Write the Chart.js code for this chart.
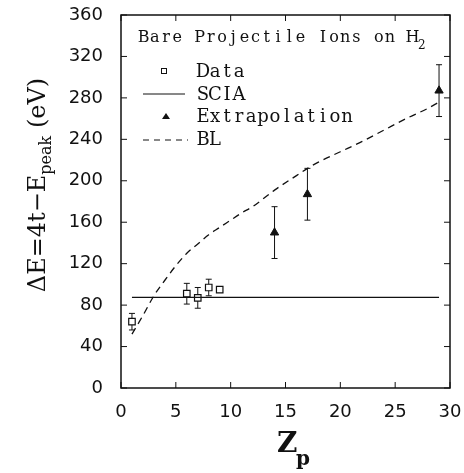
<!DOCTYPE html>
<html>
<head>
<meta charset="utf-8">
<script src="https://cdn.jsdelivr.net/npm/chart.js@4.4.0/dist/chart.umd.min.js"></script>
<style>
  html, body { margin: 0; padding: 0; background: #fff; }
  #wrap { width: 464px; height: 473px; }
</style>
</head>
<body>
<div id="wrap"><canvas id="zChart" width="464" height="473"></canvas></div>
<script>
// measured points (Z_p, Delta E in eV)
const dataZ = [1, 6, 7, 8, 9];
const dataE = [64, 91, 87, 97, 95];
const dataErr = [8, 10, 10, 8, 0];

const sciaZ = [1, 29];
const sciaE = [87.5, 87.5];

const extZ = [14, 17, 29];
const extE = [150, 187, 287];
const extErr = [25, 25, 25];

const blZ = [1, 2, 3, 4, 5, 6, 7, 8, 9, 10, 11, 12, 14, 16, 17, 18, 20, 22, 24, 26, 28, 29];
const blE = [52, 70, 89, 104, 118, 130, 139, 148, 155, 162, 169, 175, 191, 205, 212, 218, 228, 238, 249, 260, 270, 276];

const xTicks = [0, 5, 10, 15, 20, 25, 30];
const yTicks = [0, 40, 80, 120, 160, 200, 240, 280, 320, 360];

const legendTitle = ["Bare Projectile Ions on H", "2"];
const legendLabels = ["Data", "SCIA", "Extrapolation", "BL"];

const pts = (xs, ys) => xs.map((x, i) => ({ x: x, y: ys[i] }));

// typewriter look: each character centred in a fixed-width cell
function monoText(ctx, text, x, y, cell) {
  ctx.textAlign = "center";
  for (let i = 0; i < text.length; i++) {
    ctx.fillText(text[i], x + cell * (i + 0.5), y);
  }
  ctx.textAlign = "left";
  return cell * text.length;
}

// error bars under the markers
const errorBars = {
  id: "errorBars",
  beforeDatasetsDraw(chart) {
    const ctx = chart.ctx;
    const y = chart.scales.y;
    ctx.save();
    ctx.strokeStyle = "#111";
    ctx.lineWidth = 1;
    chart.data.datasets.forEach((ds, di) => {
      if (!ds.errors) return;
      const meta = chart.getDatasetMeta(di);
      meta.data.forEach((el, i) => {
        const e = ds.errors[i];
        if (!e) return;
        const v = ds.data[i].y;
        const top = y.getPixelForValue(v + e);
        const bot = y.getPixelForValue(v - e);
        ctx.beginPath();
        ctx.moveTo(el.x, top); ctx.lineTo(el.x, bot);
        ctx.moveTo(el.x - 3, top); ctx.lineTo(el.x + 3, top);
        ctx.moveTo(el.x - 3, bot); ctx.lineTo(el.x + 3, bot);
        ctx.stroke();
      });
    });
    ctx.restore();
  }
};

// frame with inward ticks on all four sides
const frame = {
  id: "frame",
  afterDatasetsDraw(chart) {
    const ctx = chart.ctx;
    const a = chart.chartArea;
    const xs = chart.scales.x, ys = chart.scales.y;
    ctx.save();
    ctx.strokeStyle = "#111";
    ctx.lineWidth = 1.5;
    ctx.strokeRect(a.left, a.top, a.right - a.left, a.bottom - a.top);
    ctx.lineWidth = 1;
    ctx.beginPath();
    xTicks.forEach(t => {
      const px = xs.getPixelForValue(t);
      ctx.moveTo(px, a.bottom); ctx.lineTo(px, a.bottom - 6);
      ctx.moveTo(px, a.top); ctx.lineTo(px, a.top + 6);
    });
    yTicks.forEach(t => {
      const py = ys.getPixelForValue(t);
      ctx.moveTo(a.left, py); ctx.lineTo(a.left + 6, py);
      ctx.moveTo(a.right, py); ctx.lineTo(a.right - 6, py);
    });
    ctx.stroke();
    ctx.restore();
  }
};

// legend box text, axis titles with subscripts
const labels = {
  id: "labels",
  afterDraw(chart) {
    const ctx = chart.ctx;
    ctx.save();
    ctx.fillStyle = "#111";
    ctx.strokeStyle = "#111";
    ctx.textBaseline = "alphabetic";

    // legend title
    ctx.font = "16px 'DejaVu Serif'";
    const w = monoText(ctx, legendTitle[0], 138, 42, 11.2);
    ctx.font = "12px 'DejaVu Serif'";
    ctx.fillText(legendTitle[1], 138 + w, 49);

    // legend rows
    const rowY = [77, 100, 122, 145];
    ctx.font = "18px 'DejaVu Serif'";
    legendLabels.forEach((t, i) => monoText(ctx, t, 197, rowY[i], 12));
    ctx.lineWidth = 1;
    ctx.strokeRect(161.5, 68.5, 5, 5);
    ctx.beginPath(); ctx.moveTo(143, 94); ctx.lineTo(185, 94); ctx.stroke();
    ctx.beginPath(); ctx.moveTo(166, 113); ctx.lineTo(170, 119); ctx.lineTo(162, 119); ctx.closePath(); ctx.fill();
    ctx.setLineDash([6, 5]);
    ctx.beginPath(); ctx.moveTo(143, 140); ctx.lineTo(188, 140); ctx.stroke();
    ctx.setLineDash([]);

    // x title: Z_p
    ctx.font = "bold 28px 'DejaVu Serif'";
    ctx.fillText("Z", 277, 452);
    ctx.font = "bold 20px 'DejaVu Serif'";
    ctx.fillText("p", 296, 465);

    // y title: ΔE=4t−E_peak (eV)
    const main = "\u0394E=4t\u2212E", sub = "peak", tail = " (eV)";
    ctx.translate(45, 185);
    ctx.rotate(-Math.PI / 2);
    ctx.font = "24px 'DejaVu Serif'";
    const w1 = ctx.measureText(main).width;
    const w3 = ctx.measureText(tail).width;
    ctx.font = "16px 'DejaVu Serif'";
    const w2 = ctx.measureText(sub).width;
    let x0 = -(w1 + w2 + w3) / 2;
    ctx.font = "24px 'DejaVu Serif'";
    ctx.fillText(main, x0, 0);
    ctx.font = "16px 'DejaVu Serif'";
    ctx.fillText(sub, x0 + w1, 6);
    ctx.font = "24px 'DejaVu Serif'";
    ctx.fillText(tail, x0 + w1 + w2, 0);
    ctx.restore();
  }
};

new Chart(document.getElementById("zChart").getContext("2d"), {
  type: "scatter",
  data: {
    datasets: [
      {
        label: "BL",
        data: pts(blZ, blE),
        showLine: true,
        borderColor: "#111",
        borderWidth: 1.3,
        borderDash: [7, 5],
        pointRadius: 0,
        cubicInterpolationMode: "monotone"
      },
      {
        label: "SCIA",
        data: pts(sciaZ, sciaE),
        showLine: true,
        borderColor: "#111",
        borderWidth: 1.2,
        pointRadius: 0
      },
      {
        label: "Data",
        data: pts(dataZ, dataE),
        errors: dataErr,
        pointStyle: "rect",
        pointRadius: 4.6,
        pointBackgroundColor: "#fff",
        pointBorderColor: "#111",
        pointBorderWidth: 1.2
      },
      {
        label: "Extrapolation",
        data: pts(extZ, extE),
        errors: extErr,
        pointStyle: "triangle",
        pointRadius: 4.8,
        pointBackgroundColor: "#111",
        pointBorderColor: "#111",
        pointBorderWidth: 1
      }
    ]
  },
  options: {
    responsive: false,
    animation: false,
    layout: { padding: { left: 0, right: 14, top: 15, bottom: 0 } },
    plugins: { legend: { display: false }, tooltip: { enabled: false } },
    scales: {
      x: {
        type: "linear",
        min: 0, max: 30,
        afterFit: s => { s.height = 85; s.paddingLeft = 0; s.paddingRight = 0; },
        afterBuildTicks: s => { s.ticks = xTicks.map(v => ({ value: v })); },
        grid: { display: false, drawTicks: false },
        border: { display: false },
        ticks: { padding: 14, color: "#111", font: { family: "DejaVu Sans", size: 18 } }
      },
      y: {
        min: 0, max: 360,
        afterFit: s => { s.width = 121; s.paddingTop = 0; s.paddingBottom = 0; },
        afterBuildTicks: s => { s.ticks = yTicks.map(v => ({ value: v })); },
        grid: { display: false, drawTicks: false },
        border: { display: false },
        ticks: { padding: 18, color: "#111", font: { family: "DejaVu Sans", size: 18 } }
      }
    }
  },
  plugins: [errorBars, frame, labels]
});
</script>
</body>
</html>
